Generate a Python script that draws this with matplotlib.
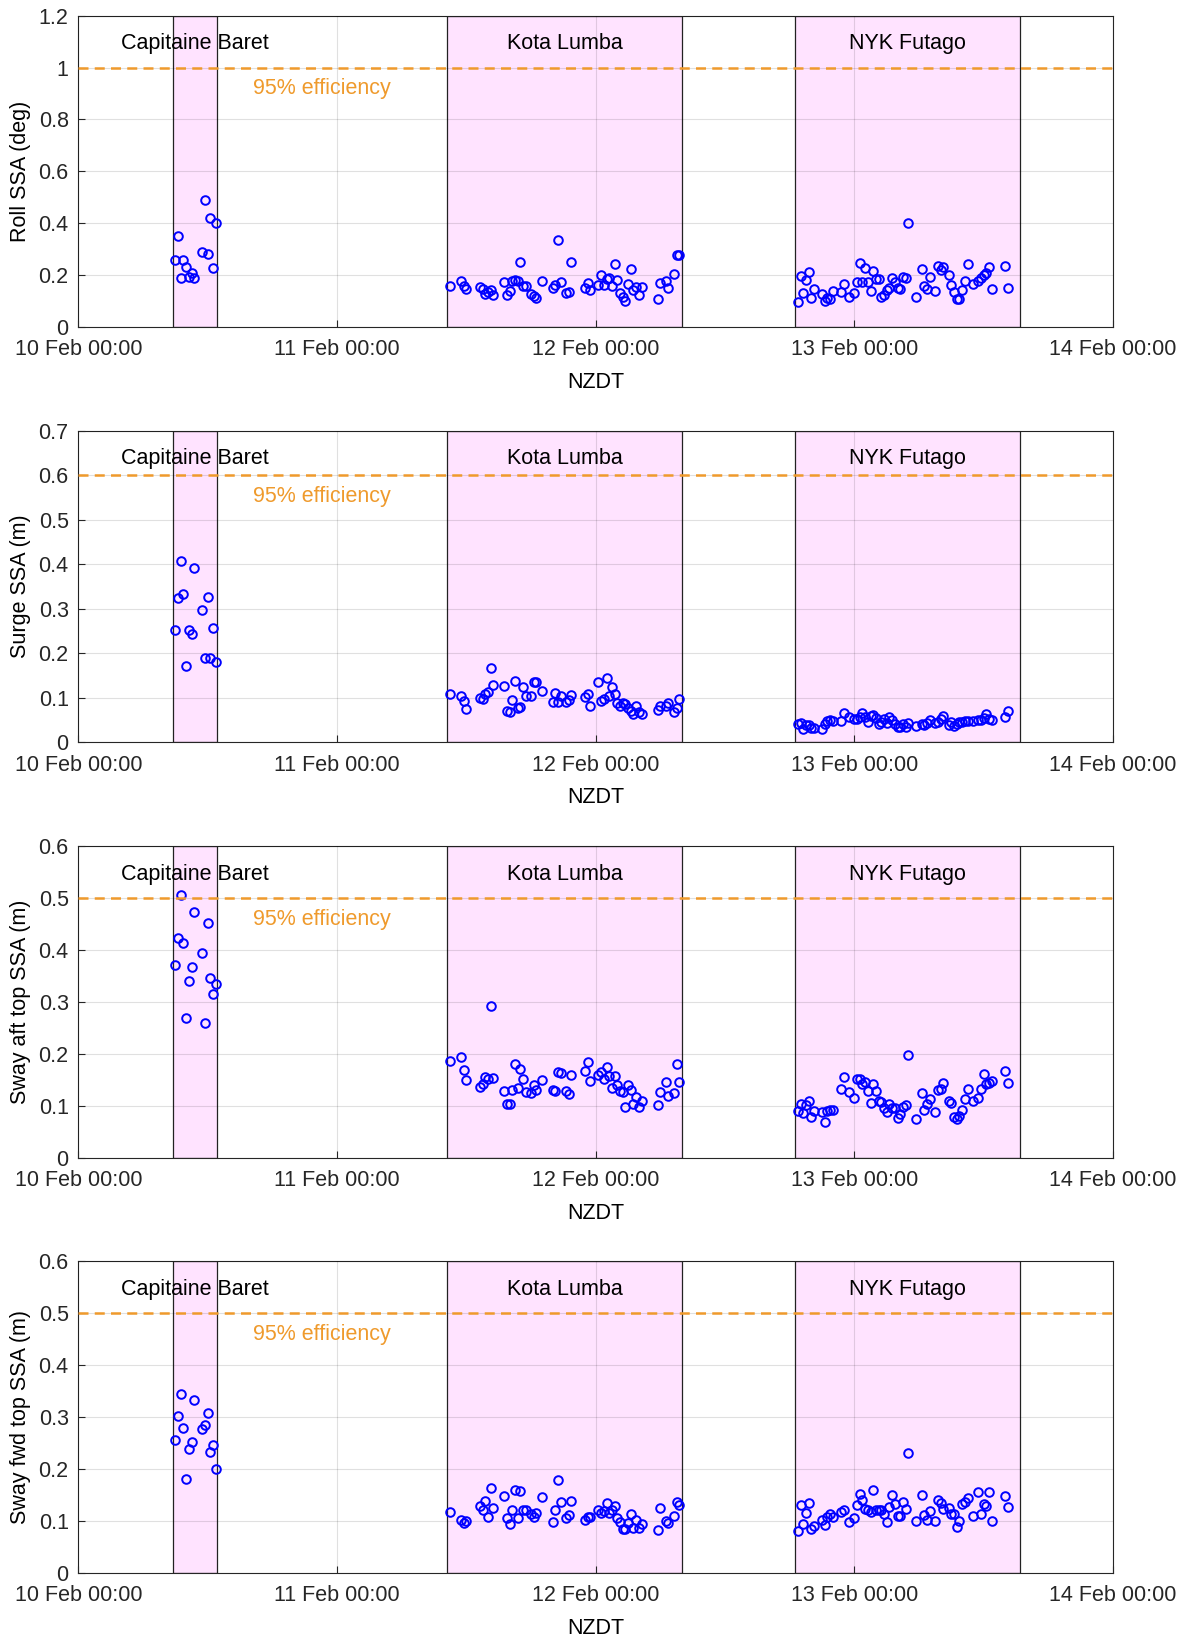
import matplotlib
matplotlib.use('Agg')
import matplotlib.pyplot as plt
import numpy as np

plt.rcParams['font.family'] = ['Liberation Sans', 'DejaVu Sans']

# sample times, hours after 10 Feb 00:00 NZDT
cb_hours = [9.0, 9.25, 9.5, 9.75, 10.0, 10.25, 10.5, 10.75, 11.5, 11.75, 12.0, 12.25, 12.5, 12.75]
kl_hours = [34.5, 35.5, 35.75, 36.0, 37.25, 37.5, 37.75, 38.0, 38.25, 38.5,
            39.5, 39.75, 40.0, 40.25, 40.5, 40.75, 41.0, 41.25, 41.5, 42.0,
            42.25, 42.5, 43.0, 44.0, 44.25, 44.5, 44.75, 45.25, 45.5, 45.75,
            47.0, 47.25, 47.5, 48.25, 48.5, 48.75, 49.0, 49.25, 49.5, 49.75,
            50.0, 50.25, 50.5, 50.75, 51.0, 51.25, 51.5, 51.75, 52.0, 52.25,
            53.75, 54.0, 54.5, 54.75, 55.25, 55.5, 55.75]
nyk_hours = [66.75, 67.0, 67.25, 67.5, 67.75, 68.0, 68.25, 69.0, 69.25, 69.5,
             69.75, 70.0, 70.75, 71.0, 71.5, 72.0, 72.25, 72.5, 72.75, 73.0,
             73.25, 73.5, 73.75, 74.0, 74.25, 74.5, 74.75, 75.0, 75.25, 75.5,
             75.75, 76.0, 76.25, 76.5, 76.75, 77.0, 77.75, 78.25, 78.5, 78.75,
             79.0, 79.5, 79.75, 80.0, 80.25, 80.75, 81.0, 81.25, 81.5, 81.75,
             82.0, 82.25, 82.5, 83.0, 83.5, 83.75, 84.0, 84.25, 84.5, 84.75,
             86.0, 86.25]

ships = ['Capitaine Baret', 'Kota Lumba', 'NYK Futago']
ship_start = [8.75, 34.2, 66.5]
ship_end = [12.9, 56.0, 87.4]

day_ticks = [0, 24, 48, 72, 96]
day_labels = ['10 Feb 00:00', '11 Feb 00:00', '12 Feb 00:00', '13 Feb 00:00', '14 Feb 00:00']

ylabels = ['Roll SSA (deg)', 'Surge SSA (m)', 'Sway aft top SSA (m)', 'Sway fwd top SSA (m)']
ymax = [1.2, 0.7, 0.6, 0.6]
ystep = [0.2, 0.1, 0.1, 0.1]
limit_95 = [1.0, 0.6, 0.5, 0.5]

# roll SSA (deg)
roll_cb = [0.26, 0.35, 0.19, 0.26, 0.23, 0.194, 0.207, 0.188, 0.29, 0.49, 0.28, 0.42, 0.226, 0.40]
roll_kl = [0.158, 0.178, 0.159, 0.148, 0.153, 0.146, 0.126, 0.135, 0.143, 0.122,
           0.172, 0.122, 0.138, 0.176, 0.181, 0.177, 0.252, 0.159, 0.157, 0.128,
           0.121, 0.113, 0.177, 0.152, 0.163, 0.334, 0.175, 0.132, 0.135, 0.252,
           0.149, 0.170, 0.141, 0.162, 0.199, 0.162, 0.184, 0.188, 0.158, 0.243,
           0.180, 0.131, 0.116, 0.101, 0.165, 0.222, 0.144, 0.154, 0.122, 0.153,
           0.108, 0.168, 0.176, 0.150, 0.203, 0.279, 0.276]
roll_nyk = [0.095, 0.197, 0.130, 0.181, 0.211, 0.111, 0.145, 0.128, 0.099, 0.113,
            0.109, 0.140, 0.135, 0.167, 0.117, 0.132, 0.173, 0.248, 0.175, 0.229,
            0.175, 0.140, 0.215, 0.185, 0.185, 0.117, 0.122, 0.143, 0.149, 0.189,
            0.173, 0.149, 0.146, 0.194, 0.189, 0.401, 0.117, 0.222, 0.158, 0.145,
            0.194, 0.139, 0.235, 0.220, 0.232, 0.202, 0.162, 0.134, 0.107, 0.107,
            0.141, 0.177, 0.243, 0.167, 0.177, 0.188, 0.202, 0.207, 0.232, 0.146,
            0.235, 0.149]

# surge SSA (m)
surge_cb = [0.252, 0.325, 0.407, 0.334, 0.171, 0.252, 0.244, 0.392, 0.297, 0.19, 0.327, 0.19, 0.257, 0.18]
surge_kl = [0.109, 0.104, 0.093, 0.075, 0.098, 0.096, 0.107, 0.112, 0.166, 0.128,
            0.127, 0.070, 0.067, 0.094, 0.137, 0.077, 0.079, 0.123, 0.103, 0.103,
            0.134, 0.134, 0.114, 0.091, 0.111, 0.091, 0.104, 0.091, 0.095, 0.106,
            0.101, 0.109, 0.080, 0.136, 0.093, 0.097, 0.145, 0.103, 0.123, 0.107,
            0.088, 0.082, 0.087, 0.085, 0.076, 0.070, 0.062, 0.082, 0.067, 0.064,
            0.071, 0.081, 0.081, 0.087, 0.067, 0.076, 0.097]
surge_nyk = [0.040, 0.042, 0.029, 0.038, 0.039, 0.032, 0.031, 0.029, 0.040, 0.048,
             0.049, 0.047, 0.048, 0.066, 0.056, 0.051, 0.052, 0.057, 0.066, 0.057,
             0.044, 0.058, 0.061, 0.055, 0.041, 0.046, 0.052, 0.043, 0.057, 0.049,
             0.040, 0.034, 0.033, 0.040, 0.034, 0.042, 0.035, 0.041, 0.039, 0.043,
             0.050, 0.043, 0.046, 0.051, 0.058, 0.038, 0.044, 0.036, 0.040, 0.046,
             0.046, 0.048, 0.047, 0.047, 0.049, 0.049, 0.054, 0.063, 0.051, 0.049,
             0.057, 0.069]

# sway aft top SSA (m)
aft_cb = [0.371, 0.423, 0.506, 0.413, 0.269, 0.341, 0.368, 0.474, 0.395, 0.259, 0.452, 0.347, 0.315, 0.335]
aft_kl = [0.186, 0.194, 0.168, 0.149, 0.137, 0.142, 0.156, 0.151, 0.292, 0.153,
          0.128, 0.103, 0.104, 0.131, 0.181, 0.134, 0.171, 0.151, 0.126, 0.124,
          0.139, 0.130, 0.149, 0.131, 0.129, 0.165, 0.164, 0.128, 0.122, 0.160,
          0.167, 0.184, 0.147, 0.160, 0.165, 0.151, 0.175, 0.157, 0.135, 0.157,
          0.140, 0.128, 0.126, 0.098, 0.140, 0.131, 0.104, 0.117, 0.098, 0.109,
          0.101, 0.126, 0.145, 0.119, 0.124, 0.181, 0.146]
aft_nyk = [0.090, 0.103, 0.085, 0.102, 0.110, 0.079, 0.090, 0.088, 0.069, 0.090,
           0.091, 0.092, 0.132, 0.155, 0.126, 0.114, 0.151, 0.151, 0.142, 0.146,
           0.128, 0.105, 0.142, 0.129, 0.109, 0.107, 0.095, 0.088, 0.103, 0.096,
           0.095, 0.076, 0.084, 0.097, 0.102, 0.197, 0.075, 0.124, 0.092, 0.103,
           0.113, 0.088, 0.130, 0.133, 0.143, 0.110, 0.105, 0.078, 0.074, 0.080,
           0.092, 0.112, 0.132, 0.110, 0.114, 0.132, 0.162, 0.141, 0.144, 0.148,
           0.167, 0.143]

# sway fwd top SSA (m)
fwd_cb = [0.256, 0.302, 0.344, 0.278, 0.18, 0.238, 0.251, 0.333, 0.276, 0.284, 0.307, 0.233, 0.247, 0.20]
fwd_kl = [0.117, 0.101, 0.095, 0.099, 0.128, 0.121, 0.138, 0.108, 0.163, 0.124,
          0.147, 0.105, 0.094, 0.121, 0.159, 0.106, 0.157, 0.121, 0.121, 0.113,
          0.108, 0.115, 0.145, 0.098, 0.120, 0.179, 0.137, 0.106, 0.112, 0.139,
          0.101, 0.107, 0.108, 0.121, 0.115, 0.118, 0.134, 0.115, 0.121, 0.128,
          0.105, 0.098, 0.084, 0.085, 0.095, 0.113, 0.087, 0.101, 0.086, 0.094,
          0.083, 0.124, 0.099, 0.095, 0.110, 0.137, 0.131]
fwd_nyk = [0.080, 0.131, 0.094, 0.115, 0.134, 0.085, 0.089, 0.101, 0.092, 0.107,
           0.113, 0.107, 0.117, 0.120, 0.098, 0.105, 0.131, 0.152, 0.141, 0.123,
           0.121, 0.117, 0.160, 0.121, 0.120, 0.121, 0.113, 0.098, 0.126, 0.150,
           0.133, 0.109, 0.110, 0.137, 0.123, 0.231, 0.099, 0.149, 0.111, 0.101,
           0.119, 0.099, 0.141, 0.135, 0.123, 0.124, 0.113, 0.113, 0.088, 0.099,
           0.132, 0.137, 0.144, 0.109, 0.155, 0.113, 0.132, 0.128, 0.155, 0.099,
           0.148, 0.127]

panels = [(roll_cb, roll_kl, roll_nyk),
          (surge_cb, surge_kl, surge_nyk),
          (aft_cb, aft_kl, aft_nyk),
          (fwd_cb, fwd_kl, fwd_nyk)]
ship_hours = [cb_hours, kl_hours, nyk_hours]

orange = '#EF9A2C'
fs = 15.5
fig = plt.figure(figsize=(11.86, 16.38), dpi=100)
bottoms = [0.8004, 0.547, 0.2933, 0.0399]

for i, data in enumerate(panels):
    ax = fig.add_axes([0.0661, bottoms[i], 0.8724, 0.19])
    ax.set_axisbelow(False)

    for s in range(3):
        ax.axvspan(ship_start[s], ship_end[s], facecolor='#FFE3FF', edgecolor='#222222',
                   linewidth=0.9, zorder=1)
        ax.text((ship_start[s] + ship_end[s]) / 2, 0.91, ships[s], transform=ax.get_xaxis_transform(),
                ha='center', va='center', fontsize=fs, zorder=4)
        ax.plot(ship_hours[s], data[s], 'o', mfc='none', mec='b', ms=6.2, mew=1.4, zorder=3)

    ax.axhline(limit_95[i], color=orange, ls=(0, (4, 2.5)), lw=1.8, zorder=3)
    ax.annotate('95% efficiency', xy=(16.2, limit_95[i]), xytext=(0, -21),
                textcoords='offset pixels', ha='left', va='center', color=orange, fontsize=fs)

    ax.set_xlim(0, 96)
    ax.set_ylim(0, ymax[i])
    ax.set_xticks(day_ticks)
    ax.set_xticklabels(day_labels)
    yt = np.round(np.arange(0, ymax[i] + 1e-9, ystep[i]), 2)
    ax.set_yticks(yt)
    ax.set_yticklabels(['%g' % v for v in yt])
    ax.grid(True, color='k', alpha=0.12, lw=0.8)
    ax.tick_params(direction='in', length=5, width=0.8, labelsize=fs, colors='#262626')
    ax.tick_params(axis='x', pad=9)
    ax.tick_params(axis='y', pad=7)
    for sp in ax.spines.values():
        sp.set_color('#262626')
        sp.set_linewidth(0.8)
    ax.set_xlabel('NZDT', fontsize=fs)
    ax.set_ylabel(ylabels[i], fontsize=fs)
    ax.xaxis.set_label_coords(0.5, -0.145)
    ax.yaxis.set_label_coords(-0.046, 0.5)

fig.savefig('out.png', dpi=100)
